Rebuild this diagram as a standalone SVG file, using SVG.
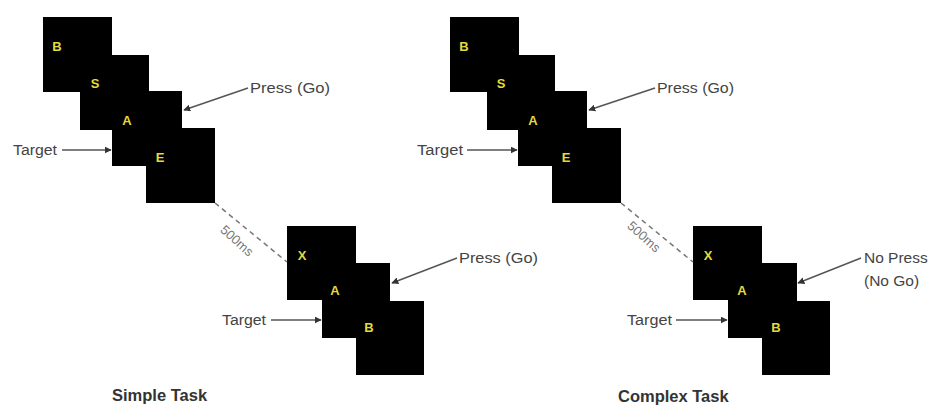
<svg xmlns="http://www.w3.org/2000/svg" width="931" height="405" viewBox="0 0 931 405">
<defs>
<marker id="ah" viewBox="0 0 10 10" refX="9" refY="5" markerWidth="7" markerHeight="7" orient="auto" markerUnits="userSpaceOnUse">
<path d="M0,0 L10,5 L0,10 z" fill="#333"/>
</marker>
<style>
.sq{fill:#000}
.lt{font-family:"Liberation Sans",Arial,sans-serif;font-size:13px;font-weight:bold;fill:#e0dc3c;text-anchor:middle}
.lbl{font-family:"Liberation Sans",Arial,sans-serif;font-size:15.5px;fill:#444}
.ttl{font-family:"Liberation Sans",Arial,sans-serif;font-size:16.5px;font-weight:bold;fill:#333}
.ms{font-family:"Liberation Sans",Arial,sans-serif;font-size:13px;fill:#777;text-anchor:middle}
.arr{stroke:#555;stroke-width:1.5;fill:none;marker-end:url(#ah)}
.dash{stroke:#777;stroke-width:1.5;stroke-dasharray:5 4;fill:none}
</style>
</defs>
<rect width="931" height="405" fill="#fff"/>

<g id="simple-seq1">
<rect class="sq" x="43" y="17" width="69" height="75"/>
<text class="lt" x="57" y="51">B</text>
<rect class="sq" x="80" y="55" width="69" height="75"/>
<text class="lt" x="95" y="88">S</text>
<rect class="sq" x="112" y="91" width="70" height="75"/>
<text class="lt" x="127" y="125">A</text>
<rect class="sq" x="146" y="128" width="69" height="75"/>
<text class="lt" x="160" y="162">E</text>
</g>

<g id="simple-seq2">
<rect class="sq" x="287" y="226" width="69" height="74"/>
<text class="lt" x="302" y="260">X</text>
<rect class="sq" x="322" y="263" width="68" height="75"/>
<text class="lt" x="335" y="295">A</text>
<rect class="sq" x="356" y="301" width="68" height="74"/>
<text class="lt" x="369" y="332">B</text>
</g>

<g id="complex-seq1">
<rect class="sq" x="450" y="17" width="69" height="75"/>
<text class="lt" x="464" y="51">B</text>
<rect class="sq" x="487" y="55" width="68" height="75"/>
<text class="lt" x="501" y="88">S</text>
<rect class="sq" x="518" y="91" width="69" height="75"/>
<text class="lt" x="533" y="125">A</text>
<rect class="sq" x="552" y="128" width="69" height="75"/>
<text class="lt" x="566" y="162">E</text>
</g>

<g id="complex-seq2">
<rect class="sq" x="693" y="226" width="69" height="74"/>
<text class="lt" x="708" y="260">X</text>
<rect class="sq" x="728" y="263" width="69" height="75"/>
<text class="lt" x="742" y="295">A</text>
<rect class="sq" x="762" y="301" width="68" height="74"/>
<text class="lt" x="776" y="332">B</text>
</g>

<g id="connectors">
<line class="arr" x1="248" y1="88" x2="184" y2="110"/>
<line class="arr" x1="62" y1="150" x2="111" y2="150"/>
<line class="arr" x1="457" y1="258" x2="392" y2="283"/>
<line class="arr" x1="271" y1="320" x2="321" y2="320"/>
<line class="dash" x1="215" y1="203" x2="287" y2="262"/>

<line class="arr" x1="655" y1="88" x2="589" y2="110"/>
<line class="arr" x1="467" y1="150" x2="517" y2="150"/>
<line class="arr" x1="861" y1="258" x2="798" y2="283"/>
<line class="arr" x1="676" y1="320" x2="727" y2="320"/>
<line class="dash" x1="621" y1="203" x2="693" y2="262"/>
</g>

<g id="labels">
<text class="lbl" x="250" y="93" textLength="80" lengthAdjust="spacingAndGlyphs">Press (Go)</text>
<text class="lbl" x="13" y="155" textLength="44" lengthAdjust="spacingAndGlyphs">Target</text>
<text class="lbl" x="459" y="263" textLength="79" lengthAdjust="spacingAndGlyphs">Press (Go)</text>
<text class="lbl" x="222" y="325" textLength="44" lengthAdjust="spacingAndGlyphs">Target</text>
<text class="ms" transform="translate(234,244) rotate(42)">500ms</text>

<text class="lbl" x="657" y="93" textLength="77" lengthAdjust="spacingAndGlyphs">Press (Go)</text>
<text class="lbl" x="417" y="155" textLength="46" lengthAdjust="spacingAndGlyphs">Target</text>
<text class="lbl" x="864" y="263">No Press</text>
<text class="lbl" x="864" y="286">(No Go)</text>
<text class="lbl" x="627" y="325" textLength="45" lengthAdjust="spacingAndGlyphs">Target</text>
<text class="ms" transform="translate(641,240) rotate(42)">500ms</text>

<text class="ttl" x="112" y="401">Simple Task</text>
<text class="ttl" x="618" y="402">Complex Task</text>
</g>
</svg>
